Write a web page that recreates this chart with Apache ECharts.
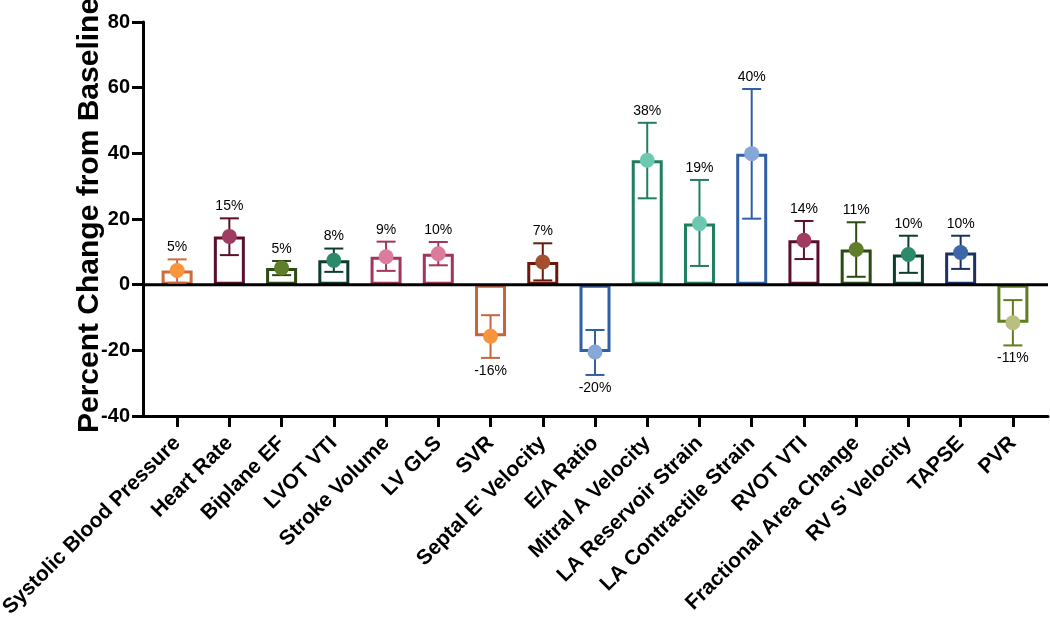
<!DOCTYPE html>
<html>
<head>
<meta charset="utf-8">
<script src="https://cdn.jsdelivr.net/npm/echarts@6/dist/echarts.min.js"></script>
<style>
html,body{margin:0;padding:0;background:#fff;}
#chart{width:1050px;height:617px;}
</style>
</head>
<body>
<div id="chart"></div>
<script>
const categories = ['Systolic Blood Pressure','Heart Rate','Biplane EF','LVOT VTI','Stroke Volume','LV GLS','SVR',"Septal E' Velocity",'E/A Ratio','Mitral A Velocity','LA Reservoir Strain','LA Contractile Strain','RVOT VTI','Fractional Area Change',"RV S' Velocity",'TAPSE','PVR'];
const means   = [4.3, 14.7, 5.1, 7.4, 8.5, 9.4, -15.7, 6.9, -20.5, 37.9, 18.6, 39.9, 13.5, 10.7, 9.2, 9.8, -11.6];
const errLow  = [0.6, 9.0, 2.9, 3.9, 4.2, 5.9, -22.3, 1.3, -27.5, 26.3, 5.7, 20.1, 7.8, 2.4, 3.6, 4.8, -18.5];
const errHigh = [7.7, 20.2, 7.2, 11.0, 13.1, 13.0, -9.3, 12.6, -13.8, 49.3, 31.9, 59.6, 19.4, 19.0, 14.9, 14.9, -4.7];
const valueLabels = ['5%','15%','5%','8%','9%','10%','-16%','7%','-20%','38%','19%','40%','14%','11%','10%','10%','-11%'];
const yTicks = {min: -40, max: 80, interval: 20};

const outlineColors = ['#CF6A3A','#5B0F2E','#2D4A12','#0F3D2B','#A3335F','#A3335F','#C8643C','#6A1A0A','#2F5FA5','#1F7F5E','#1F7F5E','#2F5FA5','#5B0F2E','#2D4A12','#0F3D2B','#1B3263','#5F7F1E'];
const dotColors     = ['#F9953A','#A23B62','#5E7E2A','#2B8A6B','#DB7C9C','#DB7C9C','#F7943C','#A2502E','#87A7D9','#6DC8B2','#6DC8B2','#87A7D9','#A23B62','#5E7E2A','#2B8A6B','#3E67A8','#B9C07F'];

const FONT = 'Liberation Sans, Arial, sans-serif';
const chart = echarts.init(document.getElementById('chart'));

const option = {
  animation: false,
  grid: [
    {left: 151, right: 11, top: 22, bottom: 201, containLabel: false, outerBoundsMode: 'none'},
    {left: 143, right: 2, top: 22, bottom: 201, containLabel: false, outerBoundsMode: 'none'}
  ],
  xAxis: [
    {
      type: 'category', gridIndex: 0, data: categories, position: 'bottom',
      axisLine: {show: false, onZero: false},
      axisTick: {show: true, alignWithLabel: true, length: 11, lineStyle: {color: '#000', width: 3}},
      axisLabel: {rotate: 45, margin: 24, color: '#000', fontFamily: FONT, fontWeight: 'bold', fontSize: 21, interval: 0},
      splitLine: {show: false}
    },
    {
      type: 'value', gridIndex: 1, min: 0, max: 1, position: 'bottom',
      axisLine: {show: true, onZero: false, lineStyle: {color: '#000', width: 3}},
      axisTick: {show: false}, axisLabel: {show: false}, splitLine: {show: false}
    }
  ],
  yAxis: [
    {
      type: 'value', gridIndex: 0, min: yTicks.min, max: yTicks.max, interval: yTicks.interval,
      show: false
    },
    {
      type: 'value', gridIndex: 1, min: yTicks.min, max: yTicks.max, interval: yTicks.interval,
      name: 'Percent Change from Baseline', nameLocation: 'middle', nameGap: 38, nameMoveOverlap: false,
      nameTextStyle: {color: '#000', fontFamily: FONT, fontWeight: 'bold', fontSize: 30, padding: [0, 0, 0, 7]},
      axisLine: {show: true, onZero: false, lineStyle: {color: '#000', width: 3}},
      axisTick: {show: true, length: 11, lineStyle: {color: '#000', width: 3}},
      axisLabel: {color: '#000', fontFamily: FONT, fontWeight: 'bold', fontSize: 20, margin: 13},
      splitLine: {show: false}
    }
  ],
  series: [
    {
      type: 'line', xAxisIndex: 1, yAxisIndex: 1,
      data: [[0, 0], [1, 0]], symbol: 'none', silent: true,
      lineStyle: {color: '#000', width: 3}, z: 5
    },
    {
      type: 'bar', xAxisIndex: 0, yAxisIndex: 0, barWidth: 31,
      data: means.map((v, i) => ({value: v, itemStyle: {color: 'rgba(0,0,0,0)', borderColor: outlineColors[i], borderWidth: 3}})),
      z: 3
    },
    {
      type: 'custom', xAxisIndex: 0, yAxisIndex: 0, z: 10,
      data: categories.map((c, i) => [i, means[i], errLow[i], errHigh[i]]),
      renderItem: function (params, api) {
        const i = api.value(0);
        const pm = api.coord([i, api.value(1)]);
        const pl = api.coord([i, api.value(2)]);
        const ph = api.coord([i, api.value(3)]);
        const c = outlineColors[i];
        const cap = 9.5;
        const ls = {stroke: c, lineWidth: 2};
        const neg = api.value(1) < 0;
        return {
          type: 'group',
          children: [
            {type: 'line', shape: {x1: pl[0], y1: pl[1], x2: ph[0], y2: ph[1]}, style: ls},
            {type: 'line', shape: {x1: pl[0] - cap, y1: pl[1], x2: pl[0] + cap, y2: pl[1]}, style: ls},
            {type: 'line', shape: {x1: ph[0] - cap, y1: ph[1], x2: ph[0] + cap, y2: ph[1]}, style: ls},
            {type: 'circle', shape: {cx: pm[0], cy: pm[1], r: 7.5}, style: {fill: dotColors[i]}},
            {type: 'text', x: pm[0], y: neg ? pl[1] + 6 : ph[1] - 5,
              style: {text: valueLabels[i], fill: '#000', font: '14px ' + FONT, align: 'center', verticalAlign: neg ? 'top' : 'bottom'}}
          ]
        };
      }
    }
  ]
};
chart.setOption(option);
</script>
</body>
</html>
